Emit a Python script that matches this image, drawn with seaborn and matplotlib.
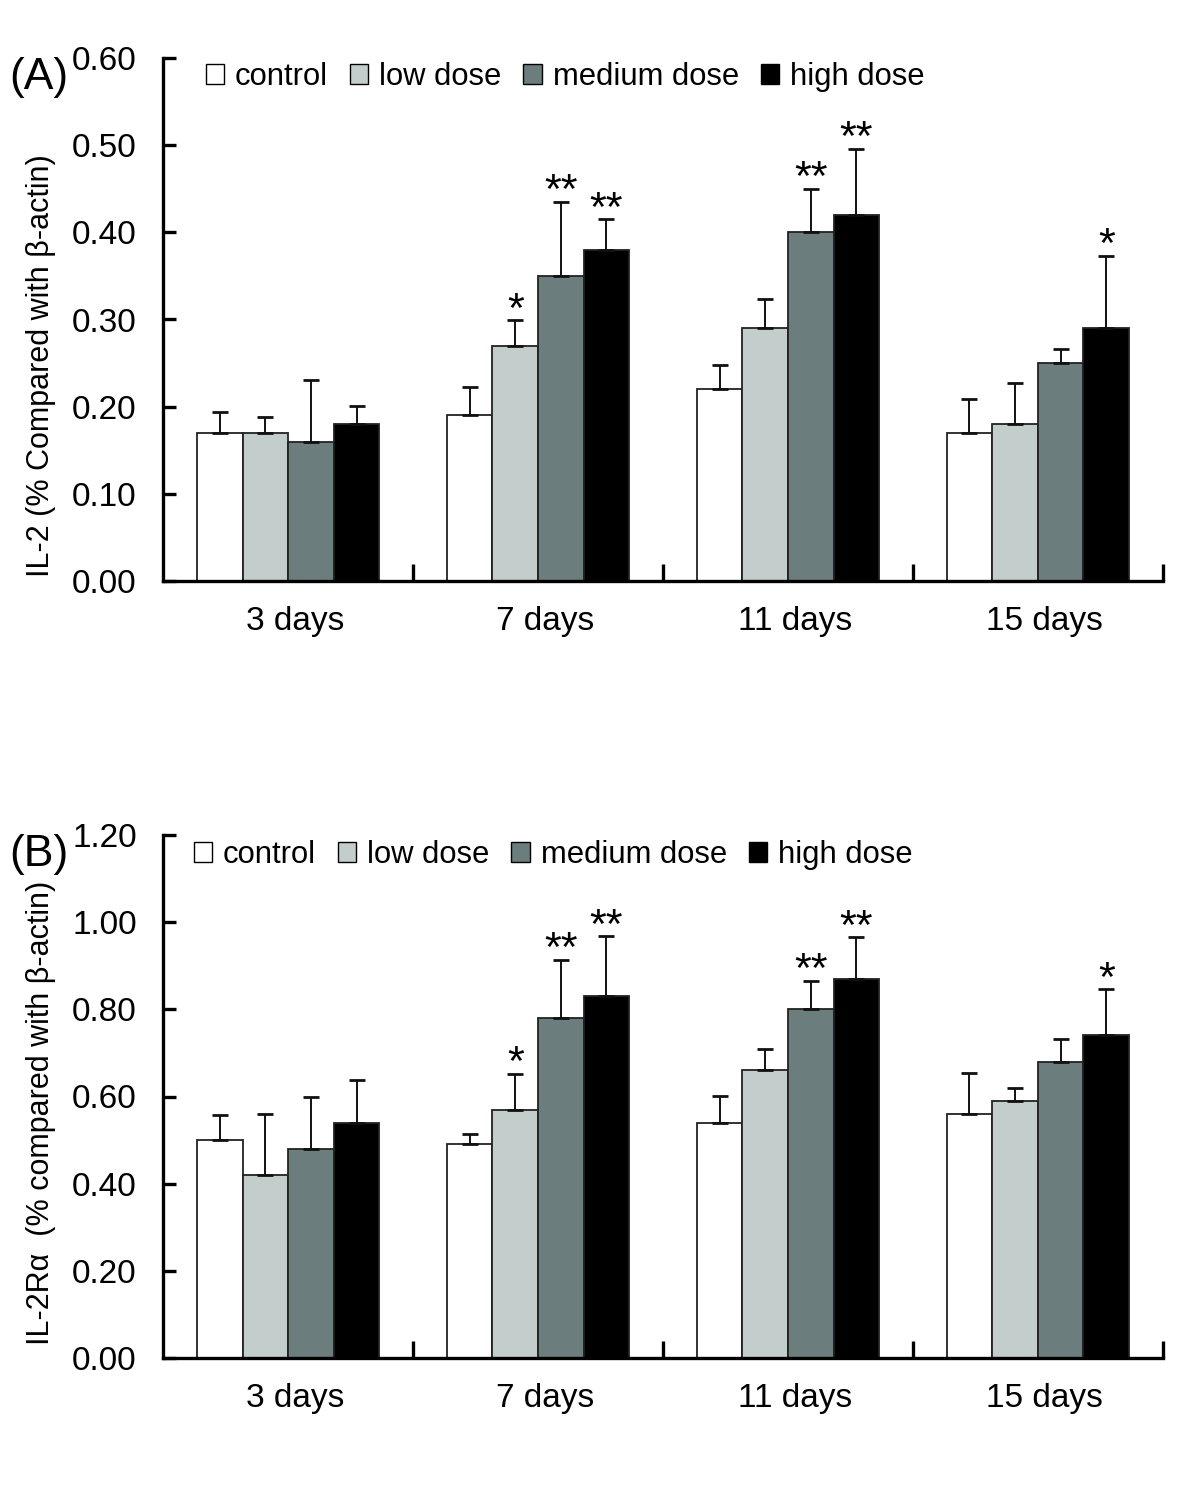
import numpy as np
import pandas as pd
import seaborn as sns
import matplotlib
matplotlib.use("Agg")
import matplotlib.pyplot as plt
import matplotlib.transforms as mtransforms
from matplotlib.patches import Patch

# data
days = ['3 days', '7 days', '11 days', '15 days']
groups = ['control', 'low dose', 'medium dose', 'high dose']
colors = ['#ffffff', '#c3cdcc', '#6b7d7d', '#000000']

# panel A: IL-2, rows = groups, cols = days
il2_mean = [[0.17, 0.19, 0.22, 0.17],
            [0.17, 0.27, 0.29, 0.18],
            [0.16, 0.35, 0.40, 0.25],
            [0.18, 0.38, 0.42, 0.29]]
il2_sd = [[0.024, 0.033, 0.028, 0.039],
          [0.018, 0.029, 0.033, 0.047],
          [0.071, 0.085, 0.050, 0.016],
          [0.021, 0.035, 0.076, 0.083]]
il2_stars = [['', '', '', ''],
             ['', '*', '', ''],
             ['', '**', '**', ''],
             ['', '**', '**', '*']]

# panel B: IL-2Ra
il2r_mean = [[0.50, 0.49, 0.54, 0.56],
             [0.42, 0.57, 0.66, 0.59],
             [0.48, 0.78, 0.80, 0.68],
             [0.54, 0.83, 0.87, 0.74]]
il2r_sd = [[0.057, 0.024, 0.062, 0.094],
           [0.139, 0.082, 0.048, 0.029],
           [0.118, 0.133, 0.065, 0.053],
           [0.097, 0.138, 0.095, 0.106]]
il2r_stars = il2_stars

sns.set_style('white')
plt.rcParams['font.family'] = ['Liberation Sans', 'DejaVu Sans']
plt.rcParams['text.color'] = 'black'
plt.rcParams['axes.labelcolor'] = 'black'
plt.rcParams['xtick.color'] = 'black'
plt.rcParams['ytick.color'] = 'black'

fig = plt.figure(figsize=(12, 15), dpi=100)
axA = fig.add_axes([0.136, 0.6127, 0.833, 0.3486])
axB = fig.add_axes([0.136, 0.0947, 0.833, 0.3486])


def draw_panel(ax, means, sds, stars, ymax, ylabel, letter, lab_y, leg_x, leg_y):
    rows = []
    for gi, g in enumerate(groups):
        for di, d in enumerate(days):
            rows.append({'day': d, 'group': g, 'value': means[gi][di]})
    df = pd.DataFrame(rows)
    sns.barplot(data=df, x='day', y='value', hue='group', order=days,
                hue_order=groups, palette=colors, width=0.73, errorbar=None,
                edgecolor='#222222', linewidth=1.3, saturation=1, ax=ax,
                legend=False)
    bar_sets = list(ax.containers)
    for gi, cont in enumerate(bar_sets):
        for di, bar in enumerate(cont.patches):
            x = bar.get_x() + bar.get_width() / 2
            y = bar.get_height()
            ax.errorbar(x, y, yerr=[[0], [sds[gi][di]]], fmt='none',
                        ecolor='#111111', elinewidth=1.4, capsize=5.5,
                        capthick=2)
            if stars[gi][di]:
                ax.annotate(stars[gi][di], (x, y + sds[gi][di]),
                            xytext=(0, -1), textcoords='offset points',
                            ha='center', va='baseline', fontsize=31)
    ax.set_xlim(-0.5, 3.5)
    ax.set_ylim(0, ymax)
    ax.set_yticks(np.linspace(0, ymax, 7))
    ax.set_yticklabels(['%.2f' % v for v in np.linspace(0, ymax, 7)])
    ax.set_xlabel('')
    ax.set_ylabel(ylabel, fontsize=22)
    ax.yaxis.set_label_coords(-0.107, lab_y)
    sns.despine(ax=ax)
    for s in ['left', 'bottom']:
        ax.spines[s].set_linewidth(2.4)
        ax.spines[s].set_color('black')
    ax.tick_params(axis='y', direction='in', length=9, width=2.4,
                   labelsize=24, pad=19, left=True)
    ax.tick_params(axis='x', which='major', length=0, labelsize=24, pad=18)
    shift = mtransforms.ScaledTranslation(5 / 72, 0, fig.dpi_scale_trans)
    for lab in ax.get_xticklabels():
        lab.set_transform(lab.get_transform() + shift)
    ax.set_xticks([0.5, 1.5, 2.5, 3.5], minor=True)
    ax.tick_params(axis='x', which='minor', direction='in', length=12,
                   width=2.4, bottom=True)
    handles = [Patch(facecolor=c, edgecolor='black', linewidth=1.0)
               for c in colors]
    ax.legend(handles, groups, loc='upper left', bbox_to_anchor=(leg_x, leg_y),
              ncol=4, frameon=False, fontsize=22.3, handlelength=0.6,
              handleheight=0.6, handletextpad=0.35, columnspacing=0.7,
              borderaxespad=0)
    ax.text(-0.154, 0.962, letter, transform=ax.transAxes, fontsize=32,
            ha='left', va='center')


draw_panel(axA, il2_mean, il2_sd, il2_stars, 0.60,
           'IL-2 (% Compared with \u03b2-actin)', '(A)', 0.411, 0.030, 1.016)
draw_panel(axB, il2r_mean, il2r_sd, il2r_stars, 1.20,
           'IL-2R\u03b1  (% compared with \u03b2-actin)', '(B)', 0.468, 0.018, 1.014)

fig.savefig('out.png', dpi=100, facecolor='white')
